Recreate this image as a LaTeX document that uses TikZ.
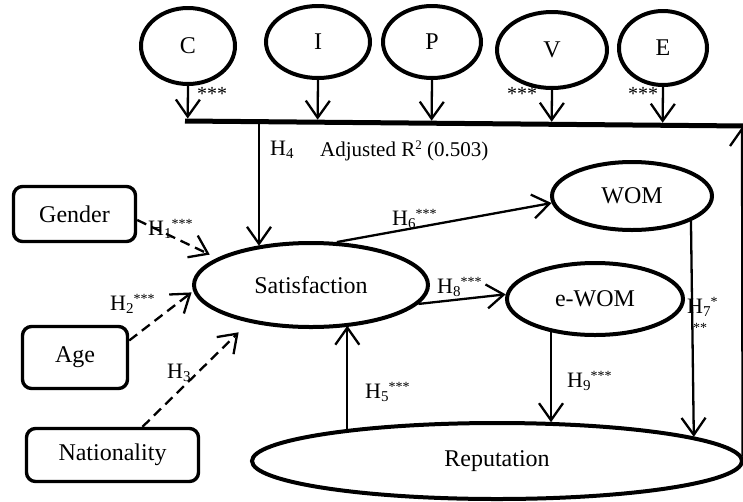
\documentclass[tikz,border=0pt]{standalone}
\usepackage{fontspec}
\setmainfont{Liberation Serif}
\usetikzlibrary{arrows.meta,calc,shapes.geometric}
\newcommand\hyp[2]{H\raisebox{-3pt}{\fontsize{15}{15}\selectfont #1}\raisebox{7pt}{\fontsize{14}{14}\selectfont #2}}
\begin{document}
\begin{tikzpicture}[x=1pt,y=-1pt,
  lbl/.style={font=\fontsize{24}{28}\selectfont},
  ell/.style={draw, ellipse, line width=4pt, inner sep=0pt, lbl},
  box/.style={draw, rectangle, rounded corners=9pt, line width=3.4pt, inner sep=0pt, lbl},
  arr/.style={line width=2.3pt, -{Straight Barb[length=17pt,width=24pt]}},
  darr/.style={arr, dash pattern=on 10pt off 6pt},
  hl/.style={font=\fontsize{22}{26}\selectfont, inner sep=0pt, anchor=base west},
  star/.style={font=\fontsize{20}{24}\selectfont, inner sep=0pt, anchor=base west},
]
\useasboundingbox (0,0) rectangle (743,501);
\clip (0,0) rectangle (743,501);

% top constructs
\node[ell, minimum width=94pt, minimum height=76pt] (C) at (188,46) {C};
\node[ell, minimum width=104pt, minimum height=72pt] (I) at (318,42) {I};
\node[ell, minimum width=98pt, minimum height=72pt] (P) at (432,42) {P};
\node[ell, minimum width=110pt, minimum height=76pt] (V) at (552,50) {V};
\node[ell, minimum width=88pt, minimum height=74pt] (E) at (663,48) {E};

% bar
\coordinate (barL) at (185,121);
\coordinate (barR) at (745,126);
\draw[line width=5pt] (barL) -- (barR);
\foreach \n in {C,I,P,V,E}
  \draw[arr, shorten >=2.5pt] (\n.south) -- ($(barL)!(\n.south)!(barR)$);

% main constructs
\node[ell, minimum width=234pt, minimum height=84pt] (Sat) at (311,285) {Satisfaction};
\node[ell, minimum width=160pt, minimum height=68pt] (WOM) at (632,196) {WOM};
\node[ell, minimum width=176pt, minimum height=72pt] (eWOM) at (595,299) {e-WOM};
\node[ell, minimum width=490pt, minimum height=76pt] (Rep) at (497,461) {Reputation};

% control variables
\node[box, minimum width=122pt, minimum height=55pt] (Gender) at (74.5,214) {Gender};
\node[box, minimum width=105pt, minimum height=62pt] (Age) at (75,357.5) {Age};
\node[box, minimum width=172pt, minimum height=53pt] (Nat) at (112.5,455) {Nationality};

% connectors
\coordinate (h4) at (259,123);
\draw[arr] (h4) -- (h4 |- Sat.144);
\draw[darr, shorten >=8pt] ([yshift=-6pt]Gender.east) -- (Sat.164);
\draw[darr, shorten >=2pt] ([yshift=17pt]Age.east) -- (Sat.183);
\draw[darr, shorten >=14pt] ([xshift=30pt]Nat.north) -- (Sat.211);
\draw[arr] (Sat.59) -- (WOM.185);
\draw[arr] (Sat.-10) -- (eWOM.177);
\draw[arr] (Rep.168) -- (Rep.168 |- Sat.-42);
\draw[arr] (eWOM.217) -- (eWOM.217 |- Rep.33);
\draw[arr] (WOM.-23) -- (Rep.7);
\coordinate (barend) at (742,127);
\draw[arr] (Rep.1) -- (barend);

% labels
\node[hl] (h1) at (148,235) {\hyp{1}{***}};
\node[hl] (h2) at (110,310) {\hyp{2}{***}};
\node[hl] (h3) at (167,378) {\hyp{3}{}};
\node[hl] (h4l) at (270,155) {\hyp{4}{}};
\node[hl, font=\fontsize{21}{25}\selectfont] (adj) at (320,156) {Adjusted R\raisebox{7pt}{\fontsize{13}{13}\selectfont 2} (0.503)};
\node[hl] (h5) at (365,398) {\hyp{5}{***}};
\node[hl] (h6) at (392,225) {\hyp{6}{***}};
\node[hl] (h8) at (437,293) {\hyp{8}{***}};
\node[hl] (h9) at (567,387) {\hyp{9}{***}};
\node[hl] (h7) at (687,313) {\hyp{7}{*}};
\node[star, font=\fontsize{14}{14}\selectfont] (h7b) at (693,332) {**};
\node[star] (sC) at (197,100) {***};
\node[star] (sV) at (507,100) {***};
\node[star] (sE) at (628,100) {***};
\end{tikzpicture}
\end{document}
